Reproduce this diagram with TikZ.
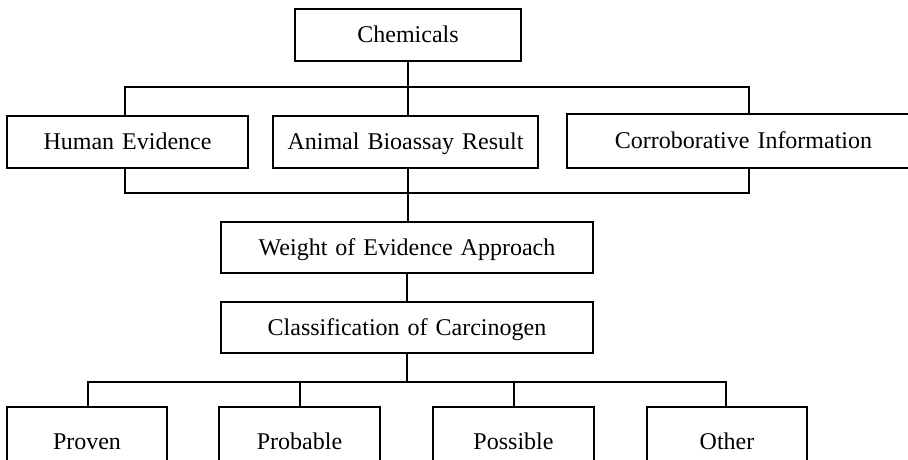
\documentclass[tikz,border=0pt]{standalone}
\usepackage{fontspec}
\setmainfont{Liberation Serif}
\begin{document}
\begin{tikzpicture}[x=1pt,y=-1pt,
  box/.style={draw, line width=1.3pt, rectangle, inner sep=0pt,
    text height=15.9pt, text depth=0pt,
    font=\fontsize{24}{28}\selectfont,
    execute at begin node={\setlength{\spaceskip}{8pt plus 2pt minus 1pt}}},
  link/.style={line width=1.1pt}]
\useasboundingbox (0,0) rectangle (908,460);
\clip (0,0) rectangle (908,460);

\node[box, minimum width=226pt, minimum height=52pt] (chem) at (408,35) {Chemicals};

\node[box, minimum width=241pt, minimum height=52pt] (human) at (127.5,142) {Human Evidence};
\node[box, minimum width=265pt, minimum height=52pt] (anim) at (405.5,142) {Animal Bioassay Result};
\node[box, minimum width=353pt, minimum height=54pt] (corr) at (743.5,141) {Corroborative Information};

\node[box, minimum width=372pt, minimum height=51pt] (weight) at (407,247.5) {Weight of Evidence Approach};
\node[box, minimum width=372pt, minimum height=51pt] (class) at (407,327.5) {Classification of Carcinogen};

\node[box, minimum width=160pt, minimum height=69pt] (proven) at (87,441.5) {Proven};
\node[box, minimum width=161pt, minimum height=69pt] (probable) at (299.5,441.5) {Probable};
\node[box, minimum width=161pt, minimum height=69pt] (possible) at (513.5,441.5) {Possible};
\node[box, minimum width=160pt, minimum height=69pt] (other) at (727,441.5) {Other};

\coordinate (bus1) at (408,87);
\coordinate (bus2) at (408,193);
\coordinate (bus3) at (407,382);

% top bus
\draw[link] (chem.south) -- (chem.south |- anim.north);
\draw[link] ([xshift=-2.5pt]human.north) |- (bus1) -| ([xshift=5.5pt]corr.north);

% lower bus
\draw[link] ([xshift=-2.5pt]human.south) |- (bus2) -| ([xshift=5.5pt]corr.south);
\draw[link] (anim.south -| chem.south) -- (weight.north -| chem.south);

\draw[link] (weight.south) -- (class.north);

% bottom bus
\draw[link] (class.south) -- (bus3);
\draw[link] ([xshift=1pt]proven.north) |- (bus3) -| ([xshift=-1pt]other.north);
\draw[link] ([xshift=0.5pt]probable.north) -- ([xshift=0.5pt]probable.north |- bus3);
\draw[link] ([xshift=0.5pt]possible.north) -- ([xshift=0.5pt]possible.north |- bus3);
\end{tikzpicture}
\end{document}
